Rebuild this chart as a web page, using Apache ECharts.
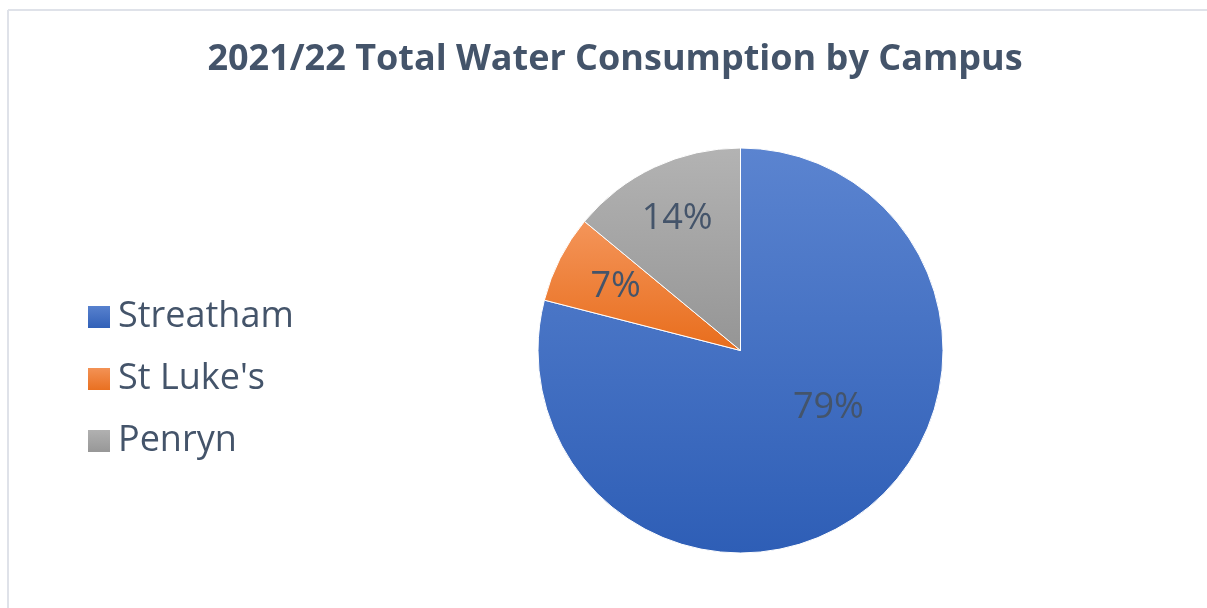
<!DOCTYPE html>
<html>
<head>
<meta charset="utf-8">
<script src="https://cdn.jsdelivr.net/npm/echarts@6/dist/echarts.min.js"></script>
<style>
html,body{margin:0;padding:0;background:#fff;}
#chart{width:1207px;height:608px;}
</style>
</head>
<body>
<div id="chart"></div>
<script>
const titleText = "2021/22 Total Water Consumption by Campus";
const campuses = ["Streatham", "St Luke's", "Penryn"];
const shares = [79, 7, 14];

const gradients = [
  ["#5b84d0", "#2e5eb6"],
  ["#f4955a", "#e86d1c"],
  ["#b3b3b3", "#959595"]
];
const labelOffsets = [[24, -25], [-32, -16], [-19, -37]];

function grad(c) {
  return new echarts.graphic.LinearGradient(0, 0, 0, 1, [
    { offset: 0, color: c[0] },
    { offset: 1, color: c[1] }
  ]);
}

const chart = echarts.init(document.getElementById('chart'), null, { renderer: 'canvas' });
const FONT = '"Open Sans", "Noto Sans", sans-serif';
chart.setOption({
  animation: false,
  backgroundColor: '#ffffff',
  graphic: [
    { type: 'line', shape: { x1: 8, y1: 10, x2: 1207, y2: 10 },
      style: { stroke: '#dfe2e9', lineWidth: 2 }, silent: true, z: -1 },
    { type: 'line', shape: { x1: 8, y1: 10, x2: 8, y2: 608 },
      style: { stroke: '#dfe2e9', lineWidth: 2 }, silent: true, z: -1 }
  ],
  title: {
    text: titleText,
    left: 610,
    top: 37,
    textAlign: 'center',
    textStyle: { fontFamily: FONT, fontSize: 36, fontWeight: 'bold', color: '#44546a' }
  },
  legend: {
    orient: 'vertical',
    left: 81,
    top: 292,
    itemWidth: 24,
    itemHeight: 24,
    itemGap: 22,
    icon: 'rect',
    selectedMode: false,
    textStyle: { fontFamily: FONT, fontSize: 36, color: '#44546a', lineHeight: 40, padding: [0, 0, 0, 2] },
    data: campuses
  },
  series: [{
    type: 'pie',
    center: [740.5, 350.5],
    radius: [0, 202.5],
    startAngle: 90,
    clockwise: true,
    avoidLabelOverlap: false,
    itemStyle: { borderColor: '#ffffff', borderWidth: 1 },
    label: {
      show: true,
      position: 'inside',
      formatter: '{c}%',
      fontFamily: FONT,
      fontSize: 36,
      color: '#44546a'
    },
    labelLine: { show: false },
    emphasis: { disabled: true },
    data: campuses.map((n, i) => ({
      name: n,
      value: shares[i],
      itemStyle: { color: grad(gradients[i]) },
      label: { offset: labelOffsets[i] }
    }))
  }]
});
</script>
</body>
</html>
